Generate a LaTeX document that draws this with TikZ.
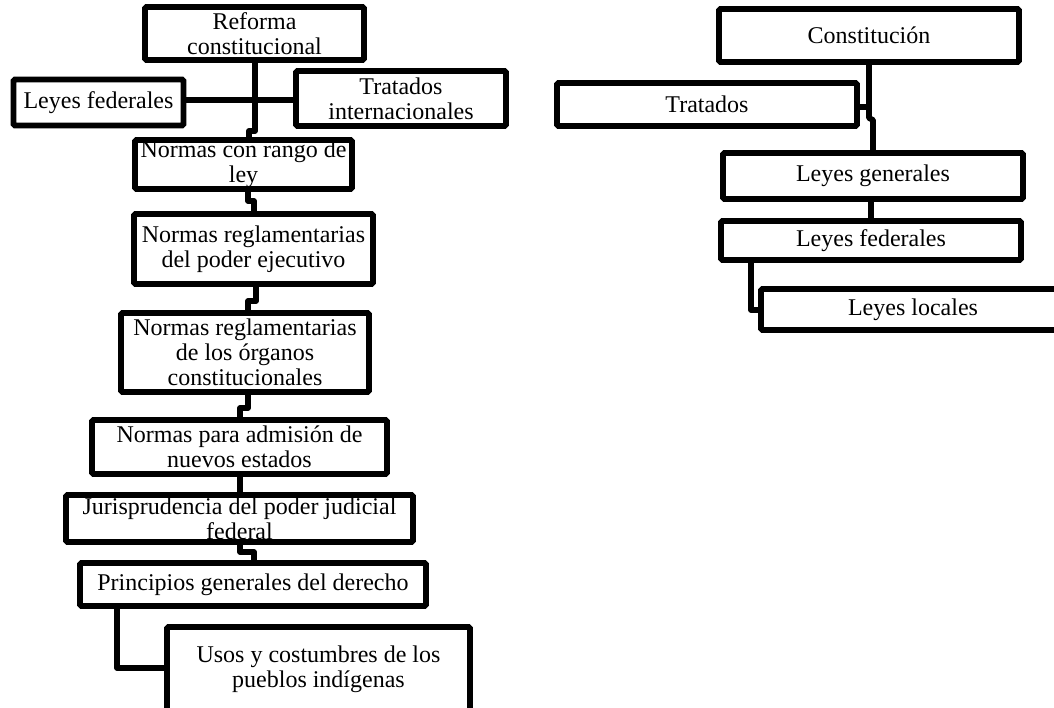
\documentclass[tikz,border=0pt]{standalone}
\usepackage{fontspec}
\setmainfont{Liberation Serif}
\begin{document}
\begin{tikzpicture}[x=1pt,y=-1pt,
  lbox/.style={draw, line width=5.8pt, rounded corners=1.5pt, inner sep=0pt,
    align=center, font=\fontsize{24}{25}\selectfont},
  link/.style={line width=5.8pt, line join=round}]
\useasboundingbox (0,0) rectangle (1054,707);
\clip (0,0) rectangle (1054,707);

% Left hierarchy
\node[lbox, minimum width=219pt, minimum height=53pt] (reforma) at (254.5,33.5) {Reforma\\constitucional};
\node[lbox, minimum width=170pt, minimum height=46pt] (lfed) at (98.5,102.5) {Leyes federales};
\node[lbox, minimum width=210pt, minimum height=55pt] (tint) at (401,98.5) {Tratados\\internacionales};
\node[lbox, minimum width=217pt, minimum height=49pt] (nrango) at (243.5,164.5) {Normas con rango de\\ley};
\node[lbox, minimum width=239pt, minimum height=70pt] (nejec) at (253.5,249) {Normas reglamentarias\\del poder ejecutivo};
\node[lbox, minimum width=248pt, minimum height=79pt] (norg) at (245,352.5) {Normas reglamentarias\\de los órganos\\constitucionales};
\node[lbox, minimum width=295pt, minimum height=54pt] (nadm) at (239.5,447) {Normas para admisión de\\nuevos estados};
\node[lbox, minimum width=347pt, minimum height=47pt] (juris) at (239.5,518.5) {Jurisprudencia del poder judicial\\federal};
\node[lbox, minimum width=346pt, minimum height=43pt] (princ) at (253,584.5) {Principios generales del derecho};
\node[lbox, minimum width=303pt, minimum height=85pt] (usos) at (318.5,669.5) {Usos y costumbres de los\\pueblos indígenas};

% Right hierarchy
\node[lbox, minimum width=300pt, minimum height=53pt] (const) at (869,35.5) {Constitución};
\node[lbox, minimum width=300pt, minimum height=43pt] (trat) at (707,104.5) {Tratados};
\node[lbox, minimum width=300pt, minimum height=46pt] (lgen) at (873,176) {Leyes generales};
\node[lbox, minimum width=300pt, minimum height=39pt] (lfedr) at (871,240.5) {Leyes federales};
\node[lbox, minimum width=304pt, minimum height=41pt] (lloc) at (913,309.5) {Leyes locales};

% Left connectors
\draw[link] (reforma.south -| 255,0) -- (255,131) -- (249,131) -- (nrango.north -| 249,0);
\draw[link] (lfed.east |- 0,100) -- (tint.west |- 0,100);
\draw[link] (nrango.south -| 248,0) -- (248,201) -- (254,201) -- (nejec.north -| 254,0);
\draw[link] (nejec.south -| 256,0) -- (256,301) -- (248,301) -- (norg.north -| 248,0);
\draw[link] (norg.south -| 248,0) -- (248,408) -- (240,408) -- (nadm.north -| 240,0);
\draw[link] (nadm.south -| 240,0) -- (juris.north -| 240,0);
\draw[link] (juris.south -| 240,0) -- (240,552) -- (254,552) -- (princ.north -| 254,0);
\draw[link] (princ.south -| 117,0) -- (117,668) -- (usos.west |- 0,668);

% Right connectors
\draw[link] (const.south -| 869,0) -- (869,118) -- (873,120) -- (lgen.north -| 873,0);
\draw[link] (trat.east |- 0,107) -- (869,107);
\draw[link] (lgen.south -| 871,0) -- (lfedr.north -| 871,0);
\draw[link] (lfedr.south -| 751,0) -- (751,310) -- (lloc.west |- 0,310);
\end{tikzpicture}
\end{document}
